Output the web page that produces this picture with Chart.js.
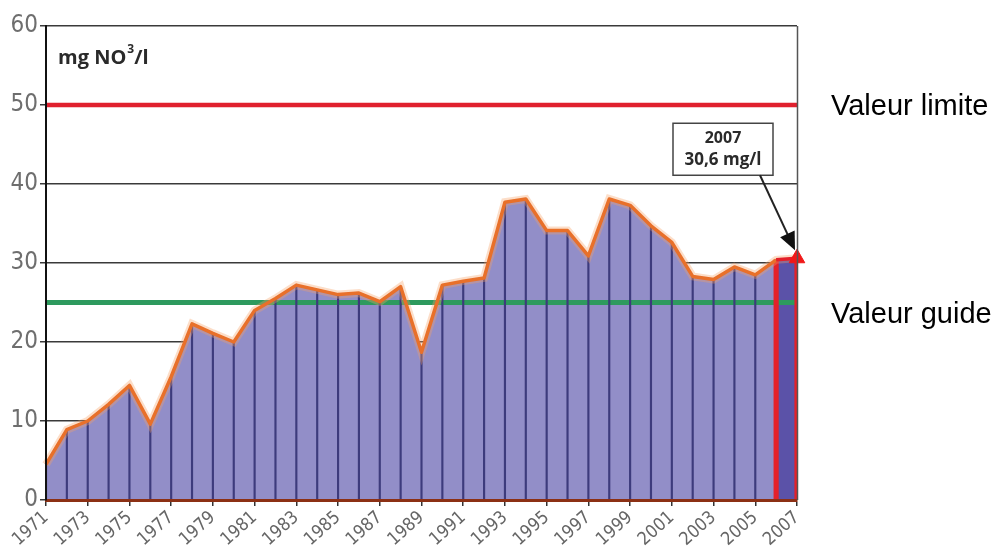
<!DOCTYPE html>
<html>
<head>
<meta charset="utf-8">
<script src="https://cdn.jsdelivr.net/npm/chart.js@4"></script>
<style>
  html, body { margin: 0; padding: 0; background: #fff; }
  #wrap { width: 1003px; height: 552px; position: relative; }
</style>
</head>
<body>
<div id="wrap"><canvas id="nitrateChart"></canvas></div>
<script>
// Teneur en nitrates, moyenne annuelle (mg NO3/l)
const years = ['1971', '1972', '1973', '1974', '1975', '1976', '1977', '1978', '1979', '1980',
  '1981', '1982', '1983', '1984', '1985', '1986', '1987', '1988', '1989', '1990',
  '1991', '1992', '1993', '1994', '1995', '1996', '1997', '1998', '1999', '2000',
  '2001', '2002', '2003', '2004', '2005', '2006', '2007'];
const nitrate = [4.5, 8.9, 10.0, 12.1, 14.5, 9.6, 15.6, 22.3, 21.1, 20.0,
  24.0, 25.5, 27.2, 26.6, 26.0, 26.2, 25.1, 27.0, 18.7, 27.2,
  27.7, 28.1, 37.7, 38.1, 34.1, 34.1, 30.9, 38.1, 37.3, 34.7,
  32.6, 28.3, 27.9, 29.5, 28.5, 30.4, 30.6];
const yTicks = [0, 10, 20, 30, 40, 50, 60];
const limitValue = 50;   // valeur limite
const guideValue = 25;   // valeur guide
const lastYear = '2007';
const lastValue = 30.6;

const axisFont = "'Liberation Sans Narrow', 'DejaVu Sans Condensed', sans-serif";
const last = years.length - 1;

// dernière tranche (2006-2007) mise en évidence
const highlight = nitrate.map((v, i) => i >= last - 1 ? v : null);
const edges = nitrate.map((v, i) => i >= last - 1 ? v : null);
const marker = nitrate.map((v, i) => i === last ? lastValue : null);

const extras = {
  id: 'extras',
  afterDraw(chart) {
    const { ctx, chartArea, scales } = chart;
    const x = scales.x, y = scales.y;
    ctx.save();

    // cadre droit
    ctx.strokeStyle = '#555';
    ctx.lineWidth = 1.5;
    ctx.beginPath();
    ctx.moveTo(chartArea.right + 0.5, chartArea.top);
    ctx.lineTo(chartArea.right + 0.5, chartArea.bottom);
    ctx.stroke();

    // unité
    ctx.fillStyle = '#2a2a2a';
    ctx.textBaseline = 'alphabetic';
    ctx.textAlign = 'left';
    let tx = chartArea.left + 12;
    const ty = chartArea.top + 38;
    ctx.font = "bold 20px 'Open Sans', sans-serif";
    ctx.fillText('mg NO', tx, ty);
    tx += ctx.measureText('mg NO').width + 1;
    ctx.font = "bold 12px 'Open Sans', sans-serif";
    ctx.fillText('3', tx, ty - 11);
    tx += ctx.measureText('3').width;
    ctx.font = "bold 20px 'Open Sans', sans-serif";
    ctx.fillText('/l', tx, ty);

    // étiquettes des valeurs de référence
    ctx.fillStyle = '#000';
    ctx.font = "29px 'Liberation Sans', Arial, sans-serif";
    ctx.fillText('Valeur limite', chartArea.right + 34, y.getPixelForValue(limitValue) + 10);
    ctx.fillText('Valeur guide', chartArea.right + 34, y.getPixelForValue(guideValue) + 20);

    // encadré 2007
    const px = x.getPixelForValue(last);
    const py = y.getPixelForValue(lastValue);
    const bx = px - 124, by = py - 135, bw = 100, bh = 52;
    ctx.fillStyle = '#fff';
    ctx.fillRect(bx, by, bw, bh);
    ctx.strokeStyle = '#444';
    ctx.lineWidth = 1.5;
    ctx.strokeRect(bx, by, bw, bh);
    ctx.fillStyle = '#2a2a2a';
    ctx.textAlign = 'center';
    ctx.font = "bold 16px 'Open Sans', sans-serif";
    ctx.fillText(lastYear, bx + bw / 2, by + 20);
    ctx.font = "bold 17px 'Open Sans', sans-serif";
    ctx.fillText('30,6 mg/l', bx + bw / 2, by + 42);

    // flèche
    const sx = bx + 87, sy = by + bh;
    const ex = px - 2, ey = py - 8;
    const ang = Math.atan2(ey - sy, ex - sx);
    ctx.strokeStyle = '#222';
    ctx.lineWidth = 2;
    ctx.beginPath();
    ctx.moveTo(sx, sy);
    ctx.lineTo(ex - 12 * Math.cos(ang), ey - 12 * Math.sin(ang));
    ctx.stroke();
    ctx.fillStyle = '#111';
    ctx.beginPath();
    ctx.moveTo(ex, ey);
    ctx.lineTo(ex - 18 * Math.cos(ang) + 8 * Math.sin(ang), ey - 18 * Math.sin(ang) - 8 * Math.cos(ang));
    ctx.lineTo(ex - 18 * Math.cos(ang) - 8 * Math.sin(ang), ey - 18 * Math.sin(ang) + 8 * Math.cos(ang));
    ctx.closePath();
    ctx.fill();

    ctx.restore();
  }
};

const ctx = document.getElementById('nitrateChart').getContext('2d');
new Chart(ctx, {
  data: {
    labels: years,
    datasets: [
      {
        // surface sous la courbe
        type: 'line',
        data: nitrate,
        fill: 'origin',
        backgroundColor: '#928ec8',
        borderWidth: 0,
        pointRadius: 0,
        order: 10
      },
      {
        type: 'line',
        data: highlight,
        fill: 'origin',
        backgroundColor: '#5b52a8',
        borderWidth: 0,
        pointRadius: 0,
        order: 9
      },
      {
        // valeur guide
        type: 'line',
        data: years.map(() => guideValue),
        borderColor: '#2e9a5e',
        borderWidth: 5,
        pointRadius: 0,
        order: 8
      },
      {
        // traits verticaux annuels
        type: 'bar',
        data: nitrate,
        backgroundColor: '#3d3b7c',
        barThickness: 1.5,
        grouped: false,
        order: 7
      },
      {
        type: 'bar',
        data: edges,
        backgroundColor: ['#e4202a'],
        barThickness: 4.5,
        grouped: false,
        order: 6
      },
      {
        // valeur limite
        type: 'line',
        data: years.map(() => limitValue),
        borderColor: '#e0202e',
        borderWidth: 4.5,
        pointRadius: 0,
        order: 5
      },
      {
        // halo de la courbe
        type: 'line',
        data: nitrate,
        borderColor: 'rgba(245, 160, 100, 0.35)',
        borderWidth: 8,
        pointRadius: 0,
        order: 4
      },
      {
        type: 'line',
        data: nitrate,
        borderColor: '#e8702a',
        borderWidth: 3.5,
        borderJoinStyle: 'round',
        pointRadius: 0,
        segment: {
          borderColor: c => c.p0DataIndex === last - 1 ? '#e4202a' : undefined
        },
        order: 3
      },
      {
        type: 'line',
        data: marker,
        showLine: false,
        pointStyle: 'triangle',
        pointRadius: 9,
        pointBackgroundColor: '#f01818',
        pointBorderColor: '#f01818',
        clip: false,
        order: 0
      }
    ]
  },
  options: {
    responsive: true,
    maintainAspectRatio: false,
    animation: false,
    layout: { padding: { top: 26, right: 206, left: 0, bottom: 0 } },
    plugins: { legend: { display: false }, tooltip: { enabled: false } },
    scales: {
      x: {
        type: 'category',
        offset: false,
        afterFit: s => { s.height = 52; },
        grid: {
          offset: false,
          drawOnChartArea: false,
          drawTicks: true,
          tickLength: 6,
          lineWidth: 1.5,
          color: c => c.index % 2 === 0 ? '#333' : 'rgba(0,0,0,0)'
        },
        border: { color: '#8c3014', width: 3, z: 1 },
        ticks: {
          autoSkip: false,
          minRotation: 42,
          maxRotation: 42,
          padding: 1,
          color: '#666',
          font: { family: axisFont, size: 18 },
          callback: (v, i) => i % 2 === 0 ? years[i] : ''
        }
      },
      y: {
        min: 0,
        max: 60,
        afterFit: s => { s.width = 46; },
        afterBuildTicks: s => { s.ticks = yTicks.map(v => ({ value: v })); },
        grid: { color: '#3a3a3a', lineWidth: 1.5, tickLength: 6 },
        border: { color: '#111', width: 2, z: 1 },
        ticks: {
          padding: 2,
          color: '#6e6e6e',
          font: { family: axisFont, size: 24 }
        }
      }
    }
  },
  plugins: [extras]
});
</script>
</body>
</html>
